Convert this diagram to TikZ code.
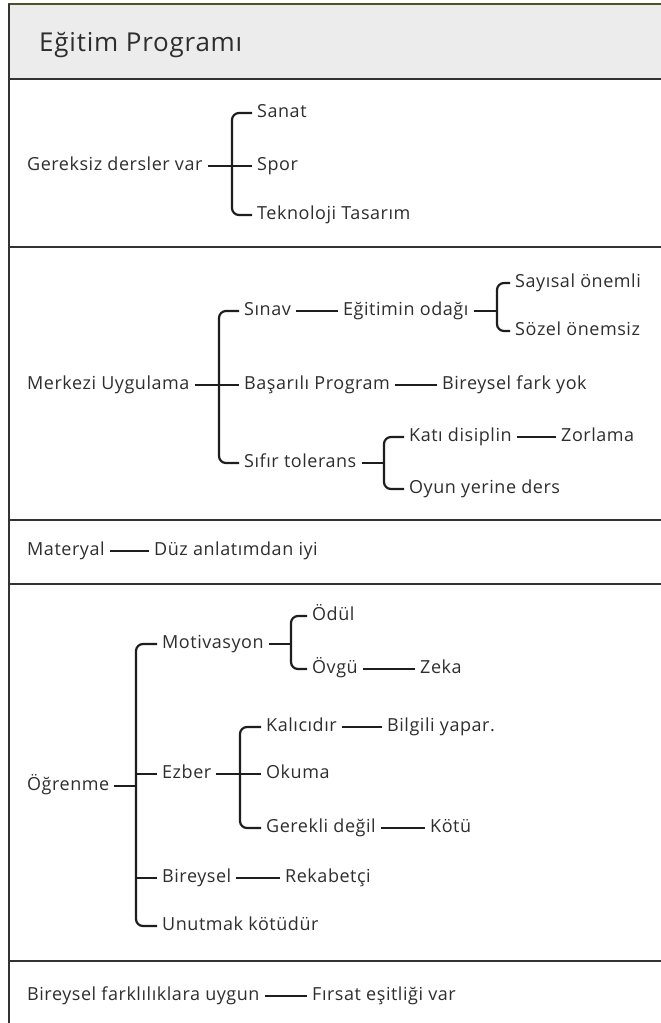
\documentclass[tikz,border=0pt]{standalone}
\usepackage{fontspec}
\setmainfont{Open Sans}[LetterSpace=3]
\definecolor{txt}{HTML}{2E2E2E}
\definecolor{lnc}{HTML}{1E1E1E}
\definecolor{sepc}{HTML}{333333}
\definecolor{topc}{HTML}{4A5228}
\definecolor{hdr}{HTML}{ECECEC}
\begin{document}
\begin{tikzpicture}[x=1pt,y=-1pt,
  lbl/.style={anchor=west, inner xsep=5pt, inner ysep=0pt, text height=13pt, text depth=4pt,
              font=\fontsize{18}{21}\selectfont, text=txt},
  ln/.style={line width=2.2pt, draw=lnc},
  br/.style={ln, rounded corners=7pt},
  sepl/.style={line width=2.5pt, draw=sepc}]
\useasboundingbox (0,0) rectangle (661,1023);
\fill[white] (0,0) rectangle (661,1023);
% header
\fill[hdr] (9,5) rectangle (661,79);
\draw[line width=2.5pt, draw=topc] (8,4) -- (661,4);
\draw[line width=2.2pt, draw=sepc] (9,4) -- (9,1023);
\foreach \yy in {79,247,520,584,961} \draw[sepl] (9,\yy) -- (661,\yy);
\node[anchor=west, inner sep=0pt, font=\fontsize{26}{30}\selectfont, text=txt] (title) at (39,45) {Eğitim Programı};

% Section 1
\node[lbl] (ger) at (22,166) {Gereksiz dersler var};
\node[lbl] (san) at (252,113) {Sanat};
\node[lbl] (spo) at (252,166) {Spor};
\node[lbl] (tek) at (252,215) {Teknoloji Tasarım};
\coordinate (b1) at (232,0);
\draw[ln] (ger.east) -- (spo.west);
\draw[br] (san.west) -- (san.west -| b1) -- (tek.west -| b1) -- (tek.west);

% Section 2
\node[lbl] (mer) at (22,385) {Merkezi Uygulama};
\node[lbl] (sin) at (239,311) {Sınav};
\node[lbl] (ego) at (338,311) {Eğitimin odağı};
\node[lbl] (say) at (510,283) {Sayısal önemli};
\node[lbl] (soz) at (510,331) {Sözel önemsiz};
\node[lbl] (bas) at (239,385) {Başarılı Program};
\node[lbl] (bfy) at (437,385) {Bireysel fark yok};
\node[lbl] (sif) at (239,463) {Sıfır tolerans};
\node[lbl] (kat) at (404,437) {Katı disiplin};
\node[lbl] (zor) at (556,437) {Zorlama};
\node[lbl] (oyu) at (404,489) {Oyun yerine ders};
\coordinate (b2) at (219,0);
\coordinate (b3) at (497,0);
\coordinate (b4) at (384,0);
\draw[ln] (mer.east) -- (bas.west);
\draw[br] (sin.west) -- (sin.west -| b2) -- (sif.west -| b2) -- (sif.west);
\draw[ln] (sin.east) -- (ego.west);
\draw[ln] (ego.east) -- (ego.east -| b3);
\draw[br] (say.west) -- (say.west -| b3) -- (soz.west -| b3) -- (soz.west);
\draw[ln] (bas.east) -- (bfy.west);
\draw[ln] (sif.east) -- (sif.east -| b4);
\draw[br] (kat.west) -- (kat.west -| b4) -- (oyu.west -| b4) -- (oyu.west);
\draw[ln] (kat.east) -- (zor.west);

% Section 3
\node[lbl] (mat) at (22,551) {Materyal};
\node[lbl] (duz) at (149,551) {Düz anlatımdan iyi};
\draw[ln] (mat.east) -- (duz.west);

% Section 4
\node[lbl] (ogr) at (22,786) {Öğrenme};
\node[lbl] (mot) at (157,644) {Motivasyon};
\node[lbl] (odu) at (307,616) {Ödül};
\node[lbl] (ovg) at (307,669) {Övgü};
\node[lbl] (zek) at (415,669) {Zeka};
\node[lbl] (ezb) at (157,774) {Ezber};
\node[lbl] (kal) at (261,727) {Kalıcıdır};
\node[lbl] (bil) at (382,727) {Bilgili yapar.};
\node[lbl] (oku) at (261,774) {Okuma};
\node[lbl] (gdg) at (261,828) {Gerekli değil};
\node[lbl] (kot) at (425,828) {Kötü};
\node[lbl] (bir) at (157,878) {Bireysel};
\node[lbl] (rek) at (280,878) {Rekabetçi};
\node[lbl] (unu) at (157,926) {Unutmak kötüdür};
\coordinate (b5) at (136,0);
\coordinate (b6) at (291,0);
\coordinate (b7) at (240,0);
\draw[ln] (ogr.east) -- (ogr.east -| b5);
\draw[br] (mot.west) -- (mot.west -| b5) -- (unu.west -| b5) -- (unu.west);
\draw[ln] (ezb.west -| b5) -- (ezb.west);
\draw[ln] (bir.west -| b5) -- (bir.west);
\draw[ln] (mot.east) -- (mot.east -| b6);
\draw[br] (odu.west) -- (odu.west -| b6) -- (ovg.west -| b6) -- (ovg.west);
\draw[ln] (ovg.east) -- (zek.west);
\draw[ln] (ezb.east) -- (oku.west);
\draw[br] (kal.west) -- (kal.west -| b7) -- (gdg.west -| b7) -- (gdg.west);
\draw[ln] (kal.east) -- (bil.west);
\draw[ln] (gdg.east) -- (kot.west);
\draw[ln] (bir.east) -- (rek.west);

% Section 5
\node[lbl] (bfu) at (22,996) {Bireysel farklılıklara uygun};
\node[lbl] (fir) at (307,996) {Fırsat eşitliği var};
\draw[ln] (bfu.east) -- (fir.west);
\end{tikzpicture}
\end{document}
